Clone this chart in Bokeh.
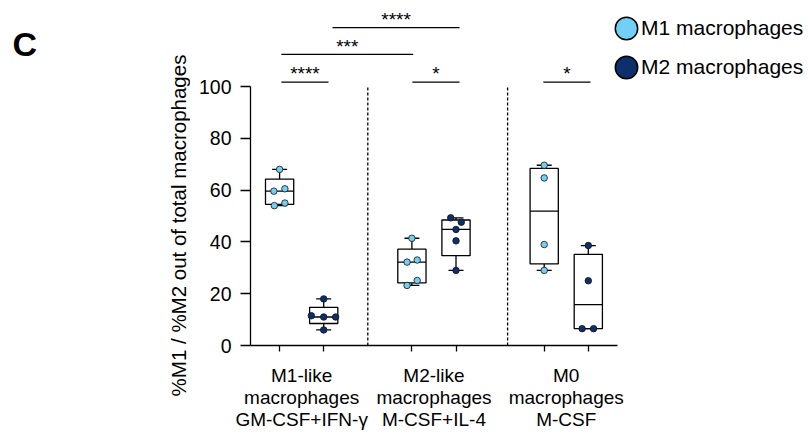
import math
from bokeh.plotting import figure
from bokeh.layouts import row
from bokeh.models import Range1d, FixedTicker, Legend, LegendItem
from bokeh.embed import file_html
from bokeh.resources import INLINE
from bokeh.core.properties import value

# ---------------- data ----------------
group_labels = ["M1-like\nmacrophages\nGM-CSF+IFN-γ",
                "M2-like\nmacrophages\nM-CSF+IL-4",
                "M0\nmacrophages\nM-CSF"]
group_centers = [1.5, 4.5, 7.5]
box_positions = [1, 2, 4, 5, 7, 8]
box_series = ["M1", "M2", "M1", "M2", "M1", "M2"]

m1like_m1 = [68.0, 59.6, 60.5, 54.0, 55.0]
m1like_m2 = [18.0, 11.5, 11.0, 11.0, 6.0]
m2like_m1 = [41.4, 32.2, 33.0, 25.1, 23.2]
m2like_m2 = [49.3, 47.6, 44.8, 40.4, 29.0]
m0_m1 = [69.6, 64.7, 39.0, 29.0]
m0_m2 = [38.6, 25.0, 6.5, 6.5]
box_values = [m1like_m1, m1like_m2, m2like_m1, m2like_m2, m0_m1, m0_m2]

# horizontal spread of the dots inside each box (x units)
m1like_m1_jit = [0.0, -0.13, 0.12, -0.12, 0.12]
m1like_m2_jit = [0.0, -0.28, 0.0, 0.27, 0.0]
m2like_m1_jit = [0.0, -0.11, 0.12, 0.12, -0.11]
m2like_m2_jit = [-0.12, 0.12, 0.0, 0.0, 0.0]
m0_m1_jit = [0.0, 0.0, 0.0, 0.0]
m0_m2_jit = [0.0, 0.0, -0.14, 0.12]
box_jitter = [m1like_m1_jit, m1like_m2_jit, m2like_m1_jit, m2like_m2_jit, m0_m1_jit, m0_m2_jit]

separators = [3.0, 6.17]

# significance brackets: (x start, x end, y, label)
sig_x0 = [1.04, 1.04, 2.20, 4.01, 6.98]
sig_x1 = [2.11, 4.03, 5.08, 5.08, 8.05]
sig_y = [101.7, 112.4, 122.7, 101.7, 101.7]
sig_text = ["****", "***", "****", "*", "*"]

y_ticks = [0, 20, 40, 60, 80, 100]
y_title = "%M1 / %M2 out of total macrophages"
panel_letter = "C"
legend_labels = ["M1 macrophages", "M2 macrophages"]

LIGHT = "#72CFF5"
DARK = "#0D2F6C"
FONT = "Liberation Sans"
colors = {"M1": LIGHT, "M2": DARK}


def quartile(vals, q):
    s = sorted(vals)
    n = len(s)
    pos = (n + 1) * q
    lo = int(math.floor(pos))
    frac = pos - lo
    if lo < 1:
        return s[0]
    if lo >= n:
        return s[-1]
    return s[lo - 1] + frac * (s[lo] - s[lo - 1])


# ---------------- left strip: panel letter + y title ----------------
LEFT_W, H = 190, 432
pl = figure(frame_width=LEFT_W, frame_height=H, x_range=Range1d(0, LEFT_W), y_range=Range1d(0, H),
            x_axis_type=None, y_axis_type=None, output_backend="svg", toolbar_location=None,
            min_border=0)
pl.outline_line_color = None
pl.text(x=[12], y=[H - 43], text=[panel_letter], text_align="left", text_baseline="alphabetic",
        text_font=value(FONT), text_font_size="34px", text_font_style="bold", text_color="black")
pl.text(x=[178], y=[H - 225], text=[y_title], angle=math.pi / 2,
        text_align="center", text_baseline="middle",
        text_font=value(FONT), text_font_size="20.5px", text_color="black")

# ---------------- main plot ----------------
PX_PER_X = 44.1
p = figure(frame_width=559, frame_height=345,
           x_range=Range1d(0.34, 0.34 + 559 / PX_PER_X),
           y_range=Range1d(0, 345 / 2.59),
           output_backend="svg", toolbar_location=None,
           min_border_left=60, min_border_right=0,
           min_border_top=0, min_border_bottom=87)
p.xgrid.visible = False
p.ygrid.visible = False
p.outline_line_color = None

BOX_W = 0.64
CAP_W = 0.34

for pos, vals, ser, jit in zip(box_positions, box_values, box_series, box_jitter):
    q1 = quartile(vals, 0.25)
    q2 = quartile(vals, 0.5)
    q3 = quartile(vals, 0.75)
    vmin, vmax = min(vals), max(vals)
    p.segment(x0=[pos, pos], y0=[q3, q1], x1=[pos, pos], y1=[vmax, vmin],
              line_color="black", line_width=1.3)
    p.segment(x0=[pos - CAP_W / 2] * 2, y0=[vmax, vmin],
              x1=[pos + CAP_W / 2] * 2, y1=[vmax, vmin],
              line_color="black", line_width=1.3)
    p.quad(left=[pos - BOX_W / 2], right=[pos + BOX_W / 2], bottom=[q1], top=[q3],
           fill_color="white", line_color="black", line_width=1.3)
    p.segment(x0=[pos - BOX_W / 2], y0=[q2], x1=[pos + BOX_W / 2], y1=[q2],
              line_color="black", line_width=1.3)
    p.scatter(x=[pos + j for j in jit], y=vals, size=6.5,
              fill_color=colors[ser], line_color="#111111", line_width=0.8)

# dashed separators
p.segment(x0=separators, y0=[0] * len(separators), x1=separators, y1=[100] * len(separators),
          line_color="black", line_width=1.3, line_dash="3 2")

# significance brackets
p.segment(x0=sig_x0, y0=sig_y, x1=sig_x1, y1=sig_y, line_color="black", line_width=1.3)
p.text(x=[(a + b) / 2 for a, b in zip(sig_x0, sig_x1)], y=[v + 3.2 for v in sig_y],
       text=sig_text, text_align="center", text_baseline="alphabetic",
       text_font=value(FONT), text_font_size="19px", text_color="black")

# axes
xa = p.xaxis[0]
xa.ticker = FixedTicker(ticks=group_centers, minor_ticks=box_positions)
xa.major_label_overrides = {c: l for c, l in zip(group_centers, group_labels)}
xa.bounds = (0.34, 8.66)
xa.major_tick_out = 0
xa.major_tick_in = 0
xa.minor_tick_out = 6
xa.minor_tick_in = 0
xa.minor_tick_line_color = "black"
xa.minor_tick_line_width = 1.3
xa.axis_line_color = "black"
xa.axis_line_width = 1.3
xa.major_label_standoff = 13
xa.major_label_text_font = FONT
xa.major_label_text_font_size = "19px"
xa.major_label_text_color = "black"
xa.major_label_text_line_height = 1.05

ya = p.yaxis[0]
ya.ticker = FixedTicker(ticks=y_ticks)
ya.bounds = (0, 100)
ya.major_tick_out = 10
ya.major_tick_in = 0
ya.minor_tick_out = 0
ya.minor_tick_in = 0
ya.major_tick_line_color = "black"
ya.major_tick_line_width = 1.3
ya.axis_line_color = "black"
ya.axis_line_width = 1.3
ya.major_label_standoff = 9
ya.major_label_text_font = FONT
ya.major_label_text_font_size = "19.5px"
ya.major_label_text_color = "black"

# legend (glyphs hold one empty point so that the legend can draw them)
nan = float("nan")
r_m1 = p.ellipse(x=[nan], y=[nan], width=22, height=22, width_units="screen",
                 height_units="screen", fill_color=LIGHT, line_color="black", line_width=1.5)
r_m2 = p.ellipse(x=[nan], y=[nan], width=22, height=22, width_units="screen",
                 height_units="screen", fill_color=DARK, line_color="black", line_width=1.5)
legend = Legend(items=[LegendItem(label=legend_labels[0], renderers=[r_m1]),
                       LegendItem(label=legend_labels[1], renderers=[r_m2])],
                location=(362, 264), orientation="vertical",
                glyph_width=28, glyph_height=28, spacing=11, label_standoff=1,
                padding=0, margin=0, border_line_color=None,
                background_fill_alpha=0,
                label_text_font=FONT, label_text_font_size="21px", label_text_color="black")
p.add_layout(legend)

layout = row(pl, p, spacing=0)
open("out.html", "w").write(file_html(layout, INLINE))
